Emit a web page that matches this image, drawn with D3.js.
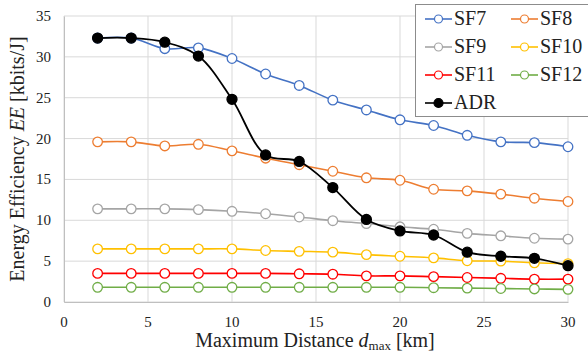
<!DOCTYPE html>
<html>
<head>
<meta charset="utf-8">
<script src="https://cdn.jsdelivr.net/npm/d3@7"></script>
<style>
  body { margin: 0; background: #fff; }
  text, tspan { font-family: 'Liberation Serif', 'Times New Roman', serif !important; }
</style>
</head>
<body>
<svg id="chart" width="588" height="358"></svg>
<script>
const distances = [2, 4, 6, 8, 10, 12, 14, 16, 18, 20, 22, 24, 26, 28, 30];
const sf7  = [32.3, 32.3, 31.0, 31.1, 29.8, 27.9, 26.5, 24.7, 23.5, 22.3, 21.6, 20.4, 19.6, 19.5, 19.0];
const sf8  = [19.6, 19.6, 19.1, 19.3, 18.5, 17.6, 16.8, 16.0, 15.2, 14.9, 13.8, 13.6, 13.2, 12.7, 12.3];
const sf9  = [11.4, 11.4, 11.4, 11.3, 11.1, 10.8, 10.4, 9.95, 9.6, 9.2, 8.9, 8.4, 8.1, 7.8, 7.7];
const sf10 = [6.5, 6.5, 6.5, 6.5, 6.5, 6.3, 6.2, 6.1, 5.8, 5.6, 5.4, 5.05, 5.0, 4.8, 4.7];
const sf11 = [3.5, 3.5, 3.5, 3.5, 3.5, 3.5, 3.45, 3.4, 3.2, 3.2, 3.1, 3.0, 2.9, 2.8, 2.8];
const sf12 = [1.8, 1.8, 1.8, 1.8, 1.8, 1.8, 1.8, 1.8, 1.8, 1.8, 1.75, 1.7, 1.65, 1.6, 1.55];
const adr  = [32.3, 32.3, 31.8, 30.1, 24.8, 18.0, 17.2, 14.0, 10.1, 8.7, 8.2, 6.1, 5.6, 5.35, 4.45];
const xTicks = [0, 5, 10, 15, 20, 25, 30];
const yTicks = [0, 5, 10, 15, 20, 25, 30, 35];

const series = [
  { name: 'SF7',  values: sf7,  color: '#4472C4', filled: false },
  { name: 'SF8',  values: sf8,  color: '#ED7D31', filled: false },
  { name: 'SF9',  values: sf9,  color: '#A5A5A5', filled: false },
  { name: 'SF10', values: sf10, color: '#FFC000', filled: false },
  { name: 'SF11', values: sf11, color: '#FF0000', filled: false },
  { name: 'SF12', values: sf12, color: '#70AD47', filled: false },
  { name: 'ADR',  values: adr,  color: '#000000', filled: true }
];

const FONT = "'Liberation Serif', 'Times New Roman', serif";

const svg = d3.select('#chart').attr('font-family', FONT);
const margin = { top: 16, right: 20, bottom: 56, left: 64 };
const width = 588 - margin.left - margin.right;
const height = 358 - margin.top - margin.bottom;

const x = d3.scaleLinear().domain([0, 30]).range([margin.left, margin.left + width]);
const y = d3.scaleLinear().domain([0, 35]).range([margin.top + height, margin.top]);

// grid
svg.append('g').selectAll('line').data(yTicks).enter().append('line')
  .attr('x1', x(0)).attr('x2', x(30))
  .attr('y1', d => y(d)).attr('y2', d => y(d))
  .attr('stroke', '#d9d9d9').attr('stroke-width', 1);
svg.append('g').selectAll('line').data(xTicks).enter().append('line')
  .attr('x1', d => x(d)).attr('x2', d => x(d))
  .attr('y1', y(35)).attr('y2', y(0))
  .attr('stroke', '#d9d9d9').attr('stroke-width', 1);

// axes: domain lines from d3 axes, labels placed via the scales
svg.append('g').attr('transform', `translate(0,${y(0)})`)
  .call(d3.axisBottom(x).tickValues(xTicks).tickSize(0).tickFormat(''))
  .select('.domain').attr('stroke', '#bfbfbf');
svg.append('g').attr('transform', `translate(${x(0)},0)`)
  .call(d3.axisLeft(y).tickValues(yTicks).tickSize(0).tickFormat(''))
  .select('.domain').attr('stroke', '#bfbfbf');

svg.selectAll(null).data(xTicks).enter().append('text')
  .attr('x', d => x(d)).attr('y', y(0) + 25)
  .attr('text-anchor', 'middle').attr('font-size', 15).attr('fill', '#222')
  .text(d => d);
svg.selectAll(null).data(yTicks).enter().append('text')
  .attr('x', x(0) - 13).attr('y', d => y(d) + 5)
  .attr('text-anchor', 'end').attr('font-size', 15).attr('fill', '#222')
  .text(d => d);

const line = d3.line()
  .x((d, i) => x(distances[i]))
  .y(d => y(d))
  .curve(d3.curveCatmullRom.alpha(0.5));

series.forEach(s => {
  svg.append('path')
    .datum(s.values)
    .attr('fill', 'none')
    .attr('stroke', s.color)
    .attr('stroke-width', s.filled ? 1.8 : 1.6)
    .attr('d', line);
  svg.selectAll(null).data(s.values).enter().append('circle')
    .attr('cx', (d, i) => x(distances[i]))
    .attr('cy', d => y(d))
    .attr('r', s.filled ? 5 : 4.8)
    .attr('fill', s.filled ? s.color : '#fff')
    .attr('stroke', s.color)
    .attr('stroke-width', 1.3);
});

// axis titles
const xt = svg.append('text')
  .attr('x', 315).attr('y', 347)
  .attr('text-anchor', 'middle')
  .attr('fill', '#222')
  .attr('font-size', 20);
xt.append('tspan').text('Maximum Distance ');
xt.append('tspan').attr('font-style', 'italic').text('d');
xt.append('tspan').attr('font-size', 13).attr('dy', 3).text('max');
xt.append('tspan').attr('dy', -3).text(' [km]');

const yt = svg.append('text')
  .attr('transform', `translate(24,${margin.top + height / 2}) rotate(-90)`)
  .attr('text-anchor', 'middle')
  .attr('fill', '#222')
  .attr('font-size', 20);
yt.append('tspan').text('Energy Efficiency ');
yt.append('tspan').attr('font-style', 'italic').text('EE');
yt.append('tspan').text(' [kbits/J]');

// legend
const lx = 415, ly = 4;
svg.append('rect')
  .attr('x', lx + 0.5).attr('y', ly + 0.5).attr('width', 180).attr('height', 112)
  .attr('fill', '#fff').attr('stroke', '#8c8c8c').attr('stroke-width', 1);
series.forEach((s, i) => {
  const col = i % 2, row = Math.floor(i / 2);
  const ix = lx + 10 + col * 86, iy = ly + 15 + row * 28;
  svg.append('line').attr('x1', ix).attr('x2', ix + 27).attr('y1', iy).attr('y2', iy)
    .attr('stroke', s.color).attr('stroke-width', 1.6);
  svg.append('circle').attr('cx', ix + 13.5).attr('cy', iy).attr('r', s.filled ? 4.5 : 4)
    .attr('fill', s.filled ? s.color : '#fff').attr('stroke', s.color).attr('stroke-width', 1.2);
  svg.append('text').attr('x', ix + 29).attr('y', iy + 6).attr('font-size', 20).attr('fill', '#222')
    .text(s.name);
});
</script>
</body>
</html>
